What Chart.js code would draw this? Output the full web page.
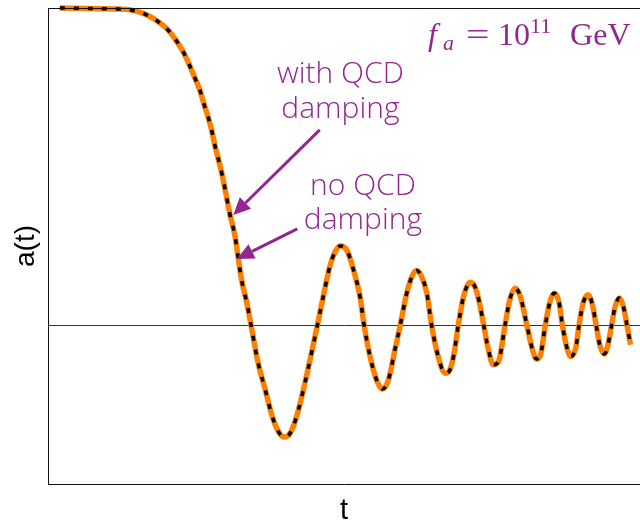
<!DOCTYPE html>
<html>
<head>
<meta charset="utf-8">
<script src="https://cdn.jsdelivr.net/npm/chart.js@4.4.1/dist/chart.umd.min.js"></script>
<style>
  html, body { margin: 0; padding: 0; background: #fff; }
  #wrap { width: 640px; height: 524px; position: relative; }
</style>
</head>
<body>
<div id="wrap"><canvas id="chart"></canvas></div>
<script>
// ── axion field a(t) (arbitrary units) ──
var tValues = [0.20, 0.88, 1.13, 1.39, 1.61, 1.82, 2.01, 2.16, 2.29, 2.39, 2.48, 2.57, 2.64, 2.71, 2.77, 2.82,
  2.91, 2.96, 3.07, 3.16, 3.21, 3.27, 3.36, 3.43, 3.55, 3.67, 3.78, 3.89, 3.99, 4.09, 4.20, 4.34, 4.45, 4.55,
  4.65, 4.76, 4.85, 4.94, 5.05, 5.16, 5.27, 5.34, 5.44, 5.55, 5.65, 5.75, 5.86, 5.95, 6.06, 6.16, 6.23, 6.31,
  6.40, 6.48, 6.59, 6.71, 6.79, 6.86, 6.93, 7.02, 7.13, 7.21, 7.29, 7.36, 7.44, 7.52, 7.61, 7.72, 7.80, 7.89,
  7.97, 8.09, 8.17, 8.25, 8.32, 8.40, 8.48, 8.55, 8.63, 8.69, 8.76, 8.83, 8.92, 8.97, 9.04, 9.12, 9.19, 9.26,
  9.32, 9.40, 9.46, 9.52, 9.58, 9.65, 9.72, 9.78, 9.84];

var aNoDamping = [1.000, 0.998, 0.997, 0.994, 0.983, 0.962, 0.934, 0.899, 0.860, 0.820, 0.780, 0.739, 0.694,
  0.653, 0.610, 0.566, 0.500, 0.458, 0.353, 0.280, 0.217, 0.143, 0.070, 0, -0.119, -0.203, -0.282, -0.334,
  -0.352, -0.340, -0.287, -0.182, -0.088, 0, 0.091, 0.185, 0.232, 0.250, 0.236, 0.175, 0.091, 0, -0.098,
  -0.172, -0.201, -0.172, -0.077, 0, 0.101, 0.159, 0.173, 0.154, 0.101, 0, -0.098, -0.151, -0.140, -0.088,
  0, 0.091, 0.136, 0.122, 0.070, 0, -0.077, -0.124, -0.114, 0, 0.080, 0.117, 0.096, 0, -0.067, -0.106,
  -0.093, 0, 0.075, 0.101, 0.075, 0, -0.067, -0.098, -0.067, 0, 0.070, 0.096, 0.070, 0, -0.061, -0.090,
  -0.061, 0, 0.059, 0.086, 0.059, 0, -0.061];

// the two curves lie on top of each other in the figure
var aWithDamping = aNoDamping.slice();

var PURPLE = '#92278f';

function toPoints(xs, ys) {
  return xs.map(function (x, i) { return { x: x, y: ys[i] }; });
}

// annotations: text + arrows, placed in data units
var labelLines = [
  { text: 'with QCD', t: 4.94, a: 0.764 },
  { text: 'damping',  t: 4.94, a: 0.652 },
  { text: 'no QCD',   t: 5.32, a: 0.411 },
  { text: 'damping',  t: 5.32, a: 0.304 }
];
var arrows = [
  { from: [4.59, 0.616], to: [3.13, 0.348] },
  { from: [4.21, 0.304], to: [3.19, 0.209] }
];

var notesPlugin = {
  id: 'notes',
  afterDatasetsDraw: function (chart) {
    var ctx = chart.ctx, xs = chart.scales.x, ys = chart.scales.y, area = chart.chartArea;
    ctx.save();

    // top frame line
    ctx.strokeStyle = '#111';
    ctx.lineWidth = 1;
    ctx.beginPath();
    ctx.moveTo(area.left, area.top + 0.5);
    ctx.lineTo(area.right, area.top + 0.5);
    ctx.stroke();

    // text labels
    ctx.fillStyle = PURPLE;
    ctx.font = '300 30px "Open Sans", "Liberation Sans", sans-serif';
    ctx.textAlign = 'center';
    ctx.textBaseline = 'alphabetic';
    labelLines.forEach(function (l) {
      ctx.fillText(l.text, xs.getPixelForValue(l.t), ys.getPixelForValue(l.a));
    });

    // arrows
    ctx.strokeStyle = PURPLE;
    ctx.lineWidth = 3;
    arrows.forEach(function (ar) {
      var x0 = xs.getPixelForValue(ar.from[0]), y0 = ys.getPixelForValue(ar.from[1]);
      var x1 = xs.getPixelForValue(ar.to[0]), y1 = ys.getPixelForValue(ar.to[1]);
      var ang = Math.atan2(y1 - y0, x1 - x0);
      var hl = 17, hw = 8;
      var bx = x1 - hl * Math.cos(ang), by = y1 - hl * Math.sin(ang);
      ctx.beginPath();
      ctx.moveTo(x0, y0);
      ctx.lineTo(bx, by);
      ctx.stroke();
      ctx.beginPath();
      ctx.moveTo(x1, y1);
      ctx.lineTo(bx + hw * Math.sin(ang), by - hw * Math.cos(ang));
      ctx.lineTo(bx - hw * Math.sin(ang), by + hw * Math.cos(ang));
      ctx.closePath();
      ctx.fill();
    });

    // f_a = 10^11 GeV  (math style label, top right)
    var bx0 = xs.getPixelForValue(6.42), base = ys.getPixelForValue(0.883);
    ctx.textAlign = 'left';
    ctx.font = 'italic 32px "Liberation Serif", "DejaVu Serif", serif';
    ctx.fillText('f', bx0, base);
    ctx.font = 'italic 22px "Liberation Serif", "DejaVu Serif", serif';
    ctx.fillText('a', bx0 + 15, base + 5);
    ctx.font = '32px "Liberation Serif", "DejaVu Serif", serif';
    ctx.save();
    ctx.scale(1.3, 1);
    ctx.fillText('=', (bx0 + 38) / 1.3, base);
    ctx.restore();
    ctx.fillText('10', bx0 + 70, base);
    ctx.fillText('GeV', bx0 + 142, base);
    ctx.font = '22px "Liberation Serif", "DejaVu Serif", serif';
    ctx.fillText('11', bx0 + 102, base - 12);

    ctx.restore();
  }
};

new Chart(document.getElementById('chart'), {
  type: 'line',
  data: {
    datasets: [
      {
        label: 'with QCD damping',
        data: toPoints(tValues, aWithDamping),
        borderColor: '#000',
        borderWidth: 3.5,
        borderDash: [5, 9],
        pointRadius: 0,
        cubicInterpolationMode: 'monotone',
        clip: false,
        order: 0
      },
      {
        label: 'no QCD damping',
        data: toPoints(tValues, aNoDamping),
        borderColor: '#ff8000',
        borderWidth: 5.5,
        pointRadius: 0,
        cubicInterpolationMode: 'monotone',
        clip: false,
        order: 1
      }
    ]
  },
  options: {
    responsive: true,
    maintainAspectRatio: false,
    animation: false,
    events: [],
    layout: { padding: { left: 0, top: 8, right: 0, bottom: 0 } },
    plugins: { legend: { display: false }, tooltip: { enabled: false } },
    scales: {
      x: {
        type: 'linear',
        min: 0,
        max: 10,
        grid: { display: false, drawTicks: false },
        border: { display: true, color: '#111', width: 1 },
        ticks: { display: false },
        title: {
          display: true,
          text: 't',
          color: '#000',
          font: { family: '"Liberation Sans", Arial, sans-serif', size: 29, lineHeight: 1 },
          padding: { top: 12.5, bottom: -1.5 }
        }
      },
      y: {
        min: -0.5,
        max: 1,
        afterBuildTicks: function (scale) { scale.ticks = [{ value: 0 }]; },
        grid: { display: true, drawTicks: false, color: '#333', lineWidth: 1 },
        border: { display: true, color: '#111', width: 1 },
        ticks: { display: false },
        title: {
          display: true,
          text: 'a(t)',
          color: '#000',
          font: { family: '"Liberation Sans", Arial, sans-serif', size: 28, lineHeight: 1 },
          padding: { top: 11.8, bottom: 8.2 }
        }
      }
    }
  },
  plugins: [notesPlugin]
});
</script>
</body>
</html>
